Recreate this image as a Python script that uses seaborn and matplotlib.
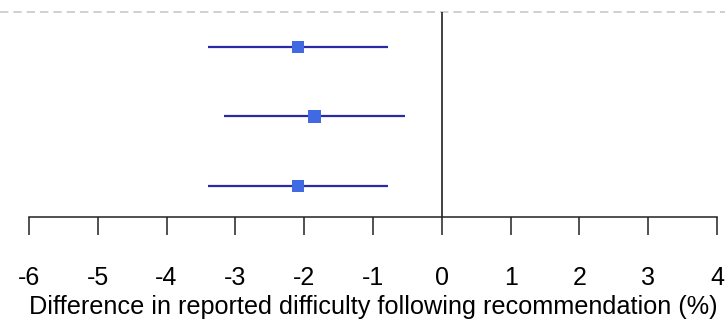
import matplotlib
matplotlib.use("Agg")
import matplotlib.pyplot as plt
import seaborn as sns
import pandas as pd

# values
rows = [3, 2, 1]
estimate = [-2.09, -1.85, -2.09]
ci_low = [-3.40, -3.17, -3.40]
ci_high = [-0.78, -0.54, -0.78]
xticks = [-6, -5, -4, -3, -2, -1, 0, 1, 2, 3, 4]

df = pd.DataFrame({"row": rows, "est": estimate, "lo": ci_low, "hi": ci_high})

sns.set_style("white")
plt.rcParams["font.family"] = ["Liberation Sans", "DejaVu Sans"]
plt.rcParams["axes.unicode_minus"] = False

fig = plt.figure(figsize=(7.25, 3.21), dpi=100)
ax = fig.add_axes([0, 0.324, 1, 0.676])

ax.axhline(3.5, color="#c8c8c8", lw=1.2, ls=(0, (5, 3)), zorder=1)
ax.vlines(0, 0.5, 3.5, color="#333333", lw=1.3, zorder=1)
ax.hlines(df["row"], df["lo"], df["hi"], color="#2a2aa8", lw=1.6, zorder=2)
sns.scatterplot(data=df, x="est", y="row", marker="s", s=85, color="#4169e1",
                edgecolor="none", ax=ax, zorder=3)

ax.set_xlim(-6.42, 4.116)
ax.set_ylim(0.554, 3.676)
ax.set_yticks([])
ax.set_ylabel("")
ax.set_xticks(xticks)
ax.set_xticklabels([str(t) for t in xticks])
ax.tick_params(axis="x", direction="out", length=13, width=1.1, color="#222222",
               labelsize=18, labelcolor="black", pad=22, bottom=True)
ax.set_xlabel("Difference in reported difficulty following recommendation (%)",
              fontsize=18.2, color="black", labelpad=4)
# centre the label under the -6..4 axis line, not the full axes width
ax.xaxis.label.set_x(0.5145)
for side in ["top", "left", "right"]:
    ax.spines[side].set_visible(False)
ax.spines["bottom"].set_bounds(-6, 4)
ax.spines["bottom"].set_linewidth(1.1)
ax.spines["bottom"].set_color("#222222")

fig.savefig("out.png", dpi=100)
